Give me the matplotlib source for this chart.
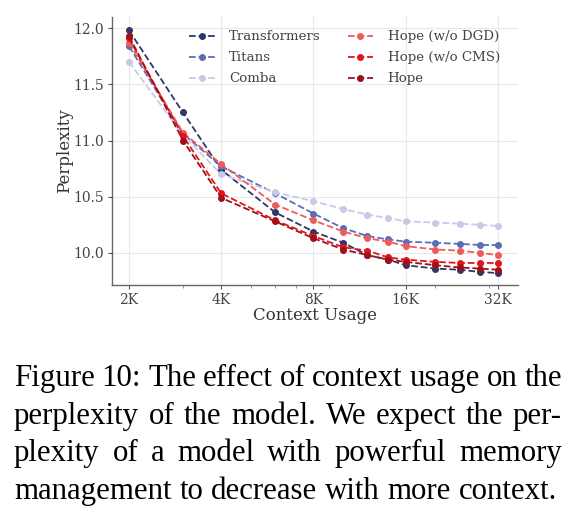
import numpy as np
import matplotlib.pyplot as plt
from matplotlib.ticker import FixedLocator, FuncFormatter, NullFormatter

# context length (K tokens)
context_k = [2, 3, 4, 6, 8, 10, 12, 14, 16, 20, 24, 28, 32]
xtick_k = [2, 4, 8, 16, 32]
yticks = [10.0, 10.5, 11.0, 11.5, 12.0]

transformers = [11.98, 11.25, 10.74, 10.36, 10.19, 10.09, 9.98, 9.94, 9.89, 9.86, 9.85, 9.83, 9.82]
titans = [11.84, 11.06, 10.77, 10.53, 10.35, 10.22, 10.15, 10.12, 10.10, 10.09, 10.08, 10.07, 10.07]
comba = [11.70, 11.05, 10.70, 10.54, 10.46, 10.39, 10.34, 10.31, 10.28, 10.27, 10.26, 10.25, 10.24]
hope_wo_dgd = [11.87, 11.07, 10.79, 10.43, 10.29, 10.19, 10.13, 10.10, 10.06, 10.03, 10.02, 10.00, 9.98]
hope_wo_cms = [11.91, 11.04, 10.53, 10.29, 10.15, 10.05, 10.02, 9.96, 9.94, 9.92, 9.91, 9.91, 9.91]
hope = [11.93, 11.00, 10.49, 10.28, 10.13, 10.03, 9.98, 9.94, 9.92, 9.89, 9.87, 9.86, 9.85]

series = [
    ('Transformers', transformers, '#2c3869'),
    ('Titans', titans, '#5b6db6'),
    ('Comba', comba, '#c6cae8'),
    ('Hope (w/o DGD)', hope_wo_dgd, '#f05a5a'),
    ('Hope (w/o CMS)', hope_wo_cms, '#e3151b'),
    ('Hope', hope, '#a0101a'),
]

caption_lines = [
    'Figure 10: The effect of context usage on the',
    'perplexity of the model. We expect the per-',
    'plexity of a model with powerful memory',
    'management to decrease with more context.',
]

W, H = 579, 511
fig = plt.figure(figsize=(W / 100, H / 100), dpi=100)
ax = fig.add_axes([112 / W, 1 - 285 / H, (518 - 112) / W, (285 - 17) / H])

x = np.array(context_k) * 1000
for name, vals, col in series:
    ax.plot(x, vals, '--', color=col, lw=1.3, marker='o', ms=4, label=name)

ax.set_xscale('log')
ax.set_xlim(1760, 37200)
ax.set_ylim(9.714, 12.10)
ax.xaxis.set_major_locator(FixedLocator([k * 1000 for k in xtick_k]))
ax.xaxis.set_major_formatter(FuncFormatter(lambda v, p: f'{int(round(v / 1000))}K'))
ax.xaxis.set_minor_formatter(NullFormatter())
ax.set_yticks(yticks)
ax.set_yticklabels([f'{v:.1f}' for v in yticks])

for lab in ax.get_xticklabels() + ax.get_yticklabels():
    lab.set_fontfamily('DejaVu Serif')
    lab.set_fontsize(10)
ax.tick_params(axis='both', which='major', colors='#555555', labelcolor='#444444',
               length=3, width=0.8, pad=3)
ax.tick_params(axis='x', which='minor', colors='#888888', length=2, width=0.6)

ax.grid(True, which='major', color='#e8e8e8', lw=0.8)
ax.set_axisbelow(True)
for s in ['top', 'right']:
    ax.spines[s].set_visible(False)
for s in ['left', 'bottom']:
    ax.spines[s].set_color('#666666')
    ax.spines[s].set_linewidth(1.0)

ax.set_ylabel('Perplexity', family='DejaVu Serif', fontsize=12, color='#333333', labelpad=0)
ax.set_xlabel('Context Usage', family='DejaVu Serif', fontsize=12, color='#333333', labelpad=0)

leg = ax.legend(ncol=2, frameon=False, loc='upper right', bbox_to_anchor=(0.985, 0.995),
                prop={'family': 'DejaVu Serif', 'size': 9.6}, handlelength=1.9,
                columnspacing=2.0, labelspacing=0.6, handletextpad=1.1)
for t in leg.get_texts():
    t.set_color('#444444')

# justified caption
renderer = fig.canvas.get_renderer()
left, right = 14, 562
baselines = [386, 424, 461, 499]
cap_font = dict(family='Liberation Serif', size=22.2, color='black')
for i, line in enumerate(caption_lines):
    words = line.split(' ')
    y = 1 - baselines[i] / H
    texts = [fig.text(0, y, w, va='baseline', ha='left', **cap_font) for w in words]
    widths = [t.get_window_extent(renderer).width for t in texts]
    if i < len(caption_lines) - 1:
        gap = (right - left - sum(widths)) / (len(words) - 1)
    else:
        sp = fig.text(0, y, 'a a', **cap_font)
        sp2 = fig.text(0, y, 'aa', **cap_font)
        gap = sp.get_window_extent(renderer).width - sp2.get_window_extent(renderer).width
        sp.remove()
        sp2.remove()
    xpos = left
    for t, w in zip(texts, widths):
        t.set_x(xpos / W)
        xpos += w + gap

fig.savefig('out.png', dpi=100)
